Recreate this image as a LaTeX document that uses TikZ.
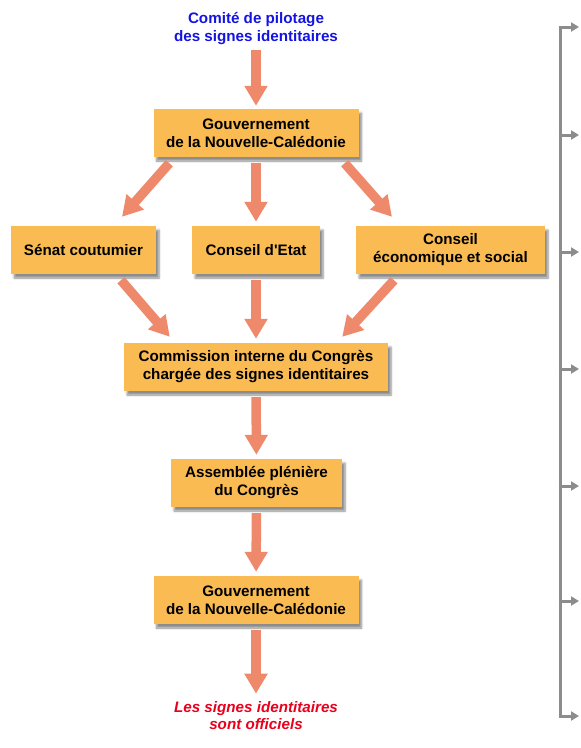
\documentclass[tikz,border=0pt]{standalone}
\usepackage{fontspec}
\setmainfont{Liberation Sans}
\usetikzlibrary{arrows.meta,calc,shadows.blur}

\definecolor{boxorange}{RGB}{249,187,82}
\definecolor{salmon}{RGB}{238,138,107}
\definecolor{railgray}{RGB}{140,140,140}
\definecolor{headblue}{RGB}{20,20,225}
\definecolor{endred}{RGB}{232,0,28}

\begin{document}
\begin{tikzpicture}[
  x=1pt, y=-1pt,
  font=\fontsize{15.2}{18}\selectfont\bfseries,
  organ/.style={fill=boxorange, inner sep=0pt, align=center, minimum height=48pt,
                blur shadow={shadow xshift=3pt, shadow yshift=-4pt, shadow blur steps=6, shadow opacity=45}},
  push/.style ={-{Triangle[length=20pt,width=22pt]}, draw=salmon, line width=9.5pt},
  gap/.style  ={shorten <=6pt, shorten >=4pt},
  rail/.style ={draw=railgray, line width=3pt},
  tick/.style ={rail, -{Triangle[length=8pt,width=9pt]}},
]
\useasboundingbox (0,0) rectangle (581,748);

% ======================= stages =======================
\node[text=headblue, align=center, inner sep=0pt] (pilot) at (256,29) {Comité de pilotage\\des signes identitaires};
\node[organ, minimum width=205pt] (g1)   at (256,133) {Gouvernement\\de la Nouvelle-Calédonie};
\node[organ, minimum width=145pt] (sen)  at (83.5,250) {Sénat coutumier};
\node[organ, minimum width=128pt] (etat) at (256,250) {Conseil d\textquotesingle Etat};
\node[organ, minimum width=189pt] (ces)  at (450.5,250) {Conseil\\économique et social};
\node[organ, minimum width=264pt] (comm) at (256,367) {Commission interne du Congrès\\chargée des signes identitaires};
\node[organ, minimum width=171pt] (ass)  at (256.5,483) {Assemblée plénière\\du Congrès};
\node[organ, minimum width=205pt] (g2)   at (256,600) {Gouvernement\\de la Nouvelle-Calédonie};
\node[text=endred, font=\fontsize{15.2}{17}\selectfont\bfseries\itshape, align=center, inner sep=0pt]
     (off) at (256,716) {Les signes identitaires\\sont officiels};

% ======================= flow =======================
\draw[push, shorten <=5pt, shorten >=3pt] (pilot) -- (g1);
\draw[push] ($(g1.south west)+(16,6)$) -- ($(sen.north)+(38.5,-9)$);
\draw[push, gap] (g1) -- (etat);
\draw[push] ($(g1.south east)+(-14,6)$) -- ($(ces.north)+(-58.5,-9)$);
\draw[push] ($(sen.south)+(37.5,6)$) -- ($(comm.north west)+(46,-6)$);
\draw[push, gap] (etat) -- (comm);
\draw[push] ($(ces.south)+(-56.5,6)$) -- ($(comm.north east)+(-46,-6)$);
\draw[push, gap] (comm) -- (ass);
\draw[push, gap] (ass) -- (g2);
\draw[push, shorten <=6pt, shorten >=8pt] (g2) -- (off);

% ======================= time rail =======================
\foreach \y [count=\i] in {27,135,252,369,486,601,716} {
  \coordinate (r\i) at (560,\y);
  \coordinate (t\i) at (579,\y);
  \draw[tick] ([xshift=-1.5pt]r\i) -- (t\i);
}
\draw[rail] ([yshift=1.5pt]r1) -- ([yshift=-1.5pt]r7);
\end{tikzpicture}
\end{document}
